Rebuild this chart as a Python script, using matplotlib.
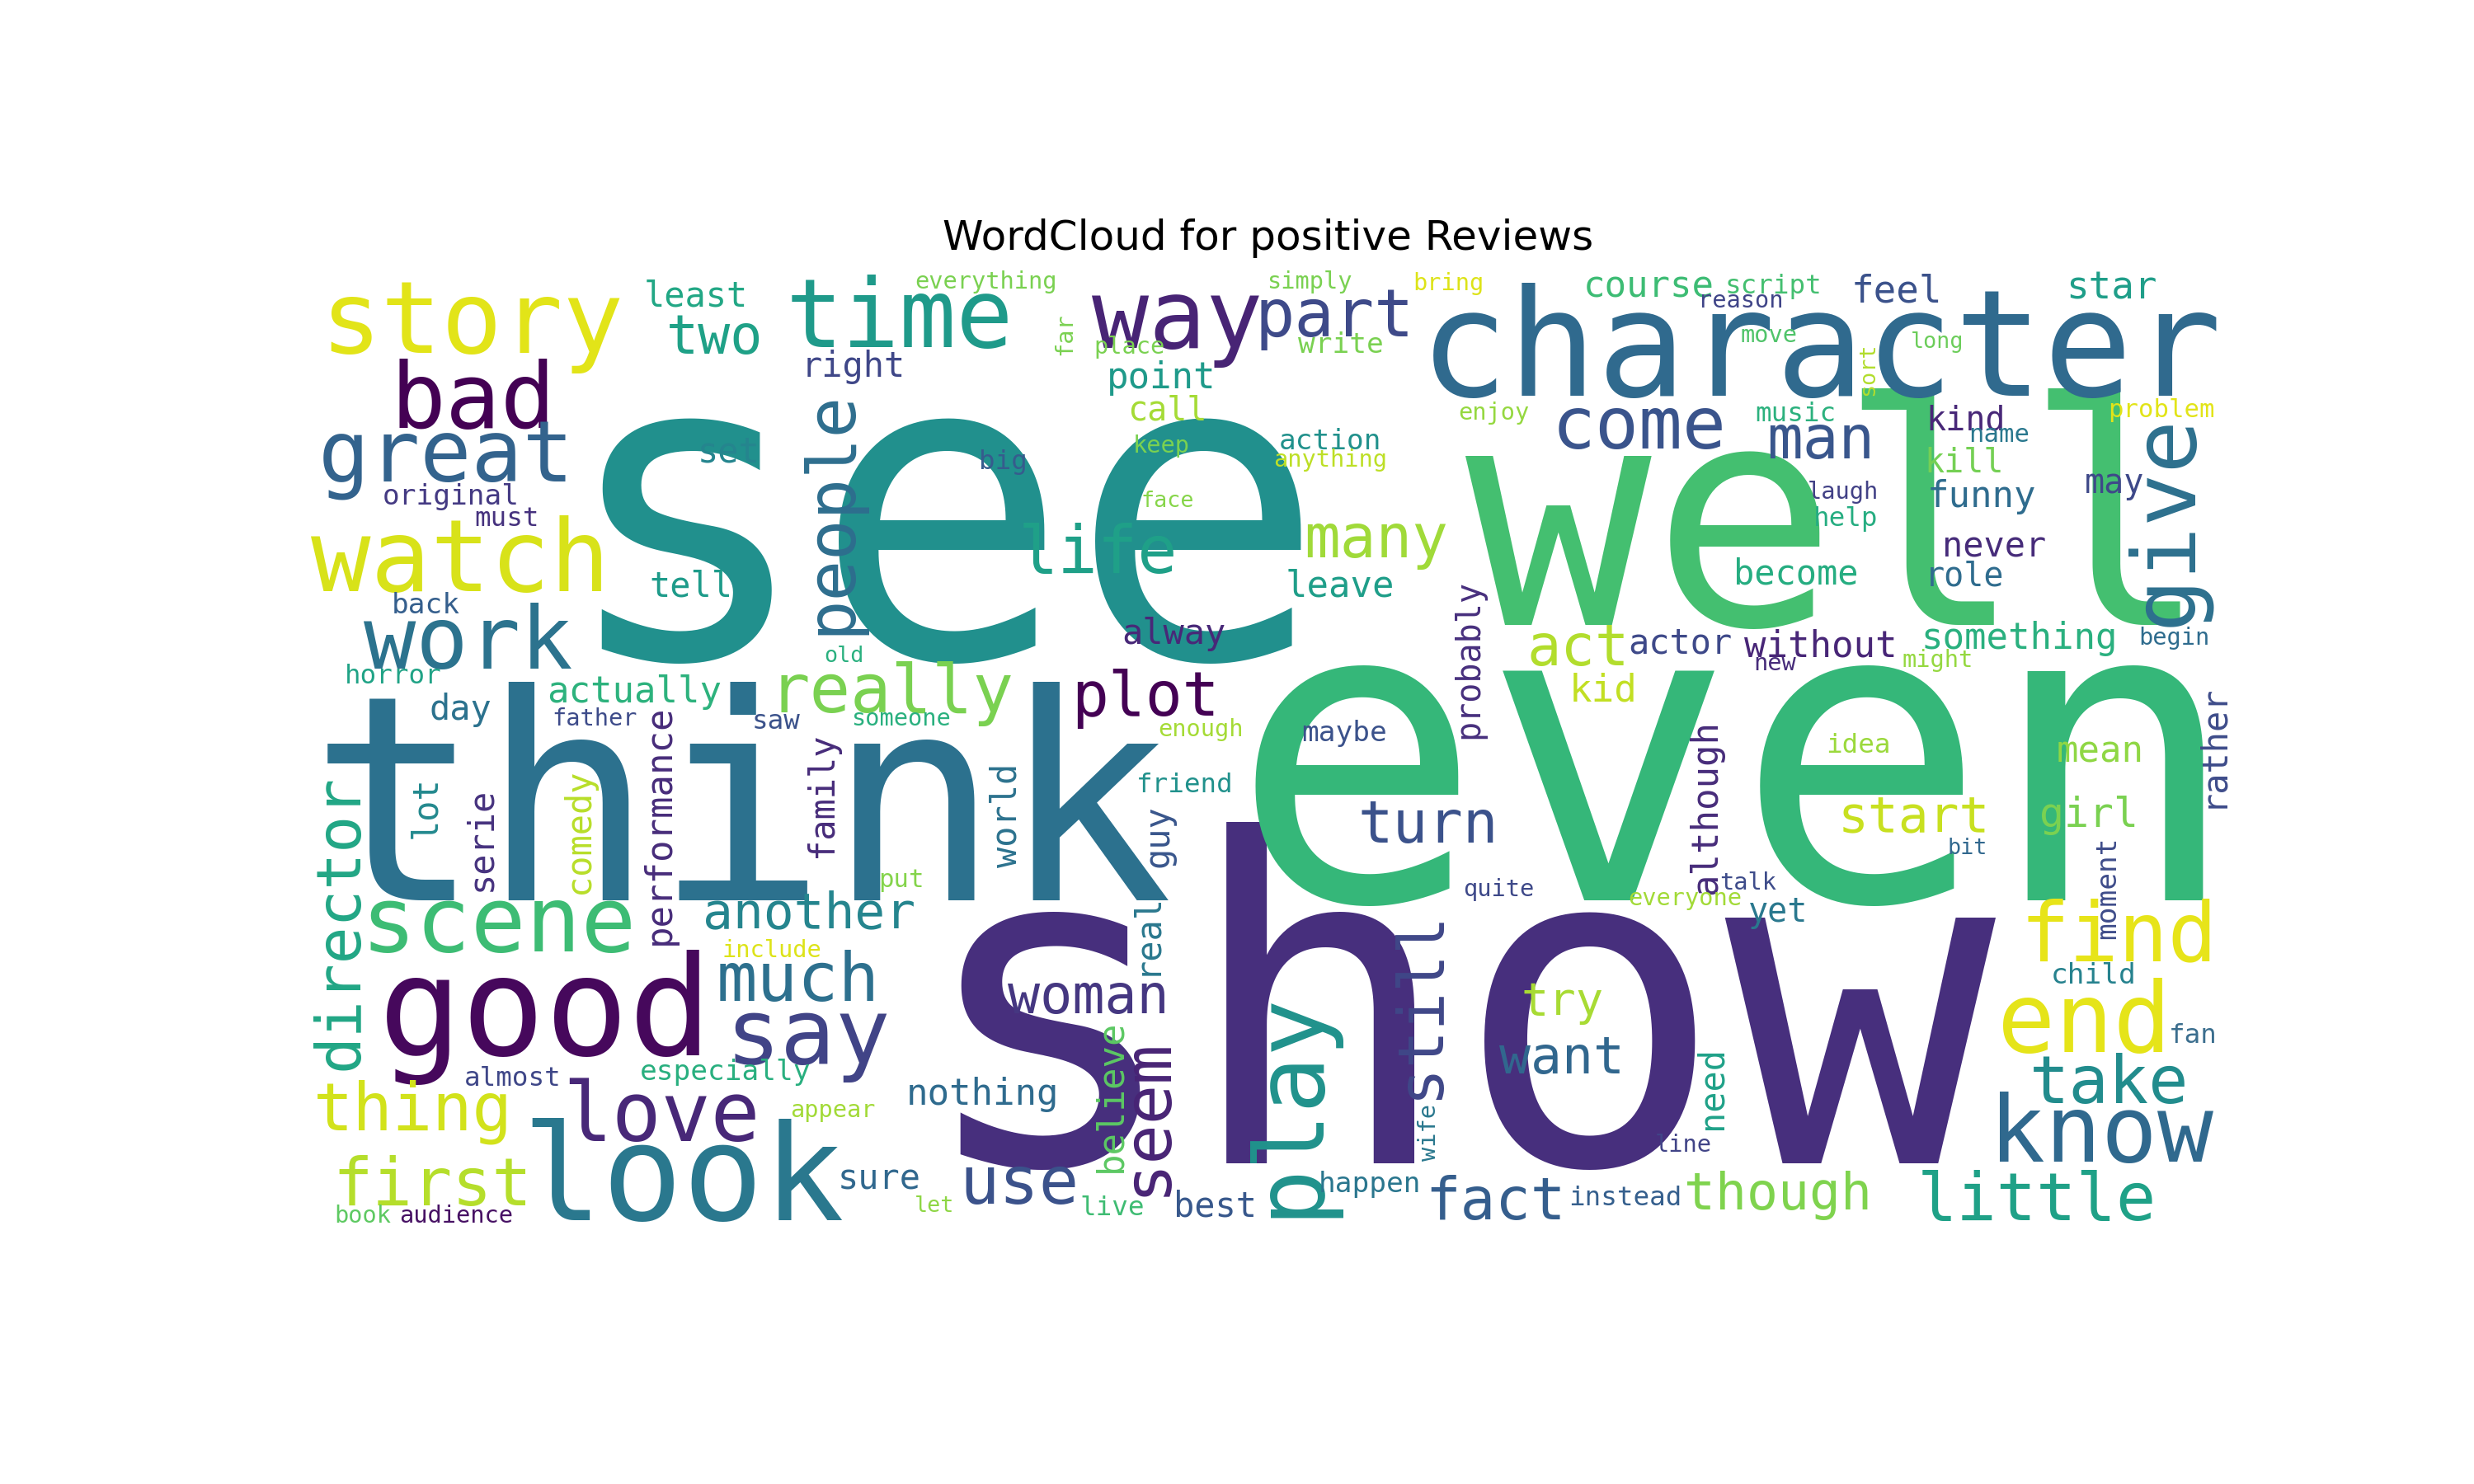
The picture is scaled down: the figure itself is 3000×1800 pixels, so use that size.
import numpy as np
import matplotlib
matplotlib.use("Agg")
from matplotlib import pyplot as plt

# word cloud layout (x, y = word centre in reference pixels,
# em = font em size in reference pixels, rot = rotation in degrees)
words = ["see", "show", "even", "well", "think", "character", "look", "good", "story", "watch",
         "time", "way", "part", "bad", "great", "work", "come", "man", "give", "life",
         "people", "many", "really", "plot", "act", "turn", "start", "scene", "another", "much",
         "say", "director", "thing", "first", "love", "use", "seem", "play", "still", "woman",
         "nothing", "try", "want", "fact", "though", "little", "know", "take", "end", "find",
         "two", "least", "right", "point", "call", "set", "big", "tell", "actually", "day",
         "lot", "serie", "comedy", "performance", "family", "world", "guy", "real", "believe", "put",
         "include", "especially", "almost", "appear", "sure", "best", "live", "let", "happen", "book",
         "audience", "instead", "line", "need", "wife", "maybe", "probably", "kid", "actor", "without",
         "something", "become", "leave", "alway", "never", "role", "funny", "kill", "kind", "may",
         "help", "laugh", "music", "feel", "course", "script", "star", "reason", "move", "sort",
         "long", "name", "problem", "action", "anything", "enjoy", "keep", "face", "everything", "simply",
         "bring", "far", "place", "write", "old", "horror", "back", "original", "must", "father",
         "saw", "someone", "idea", "mean", "rather", "girl", "bit", "although", "talk", "everyone",
         "yet", "moment", "new", "might", "begin", "child", "fan", "quite", "enough", "friend"]
xs = [597, 922, 1100, 1165, 470, 1154, 433, 346, 299, 292,
      570, 746, 846, 300, 283, 297, 1039, 1154, 1373, 696,
      527, 872, 565, 726, 1000, 905, 1213, 316, 513, 506,
      512, 216, 262, 274, 419, 646, 727, 817, 900, 690,
      623, 990, 990, 948, 1127, 1291, 1332, 1337, 1321, 1343,
      453, 441, 541, 736, 740, 462, 636, 438, 402, 292,
      270, 305, 367, 418, 521, 638, 734, 726, 704, 571,
      489, 460, 325, 528, 557, 770, 705, 592, 868, 230,
      289, 1030, 1067, 1085, 906, 852, 931, 1016, 1065, 1154,
      1280, 1138, 849, 744, 1264, 1245, 1256, 1245, 1246, 1340,
      1170, 1168, 1138, 1202, 1045, 1124, 1338, 1103, 1121, 1184,
      1228, 1267, 1370, 843, 843, 947, 736, 740, 625, 830,
      918, 675, 716, 850, 535, 249, 270, 286, 321, 377,
      492, 571, 1178, 1331, 1402, 1324, 1247, 1081, 1108, 1068,
      1127, 1336, 1125, 1228, 1378, 1327, 1390, 950, 761, 751]
ys = [342, 658, 497, 342, 520, 225, 750, 645, 206, 357,
      203, 204, 202, 255, 291, 409, 272, 280, 330, 352,
      325, 343, 440, 443, 412, 524, 519, 587, 580, 623,
      658, 585, 705, 753, 709, 752, 708, 700, 637, 633,
      694, 636, 672, 763, 758, 762, 720, 688, 650, 595,
      215, 188, 233, 240, 261, 287, 293, 372, 439, 450,
      512, 532, 527, 523, 504, 517, 530, 592, 695, 558,
      603, 680, 684, 704, 748, 765, 766, 765, 751, 771,
      771, 760, 726, 690, 718, 465, 418, 438, 408, 410,
      405, 364, 372, 402, 347, 366, 315, 294, 267, 307,
      329, 312, 263, 185, 182, 182, 183, 191, 213, 234,
      217, 276, 260, 280, 292, 262, 283, 318, 179, 179,
      180, 212, 220, 219, 416, 429, 384, 315, 329, 456,
      458, 456, 473, 477, 473, 517, 538, 512, 560, 570,
      579, 563, 421, 419, 405, 619, 657, 564, 463, 498]
ems = [270, 285, 266, 196, 182, 94, 85, 88, 64, 63,
       60, 60, 42, 58, 54, 55, 46, 38, 56, 42,
       43, 38, 43, 39, 36, 37, 32, 58, 32, 43,
       58, 39, 42, 42, 52, 42, 42, 60, 40, 34,
       23, 29, 33, 37, 33, 42, 59, 42, 61, 52,
       34, 22, 22, 23, 21, 22, 17, 22, 23, 22,
       22, 22, 22, 23, 22, 22, 22, 22, 23, 16,
       15, 18, 17, 15, 22, 22, 17, 14, 18, 15,
       15, 17, 15, 22, 15, 18, 21, 24, 22, 23,
       23, 22, 23, 22, 22, 21, 23, 21, 21, 21,
       17, 15, 17, 24, 23, 17, 24, 15, 15, 14,
       14, 16, 16, 18, 15, 15, 15, 14, 15, 15,
       15, 15, 15, 18, 14, 17, 18, 18, 17, 15,
       17, 15, 17, 23, 22, 26, 14, 23, 15, 15,
       21, 18, 15, 15, 15, 18, 17, 15, 15, 17]
rots = [0] * 150
for w in ["give", "people", "director", "seem", "play", "still", "lot", "serie", "comedy", "performance",
          "family", "world", "guy", "real", "believe", "need", "wife", "probably", "sort", "far",
          "rather", "although", "moment"]:
    rots[words.index(w)] = 90
colors = ["#21908d", "#472f7d", "#35b779", "#44bf70", "#2c718e", "#306a8e", "#2a788e", "#46085c", "#e2e418", "#d8e219",
          "#1f9a8a", "#482475", "#3e4a89", "#440154", "#33638d", "#2c738e", "#3a548c", "#39568c", "#2d708e", "#1fa088",
          "#2e6e8e", "#a0da39", "#7ad151", "#440154", "#b2dd2d", "#3b528b", "#c8e020", "#3dbc74", "#25858e", "#2d708e",
          "#414487", "#21a685", "#d2e21b", "#b5de2b", "#482878", "#3b528b", "#482475", "#20928c", "#3f4788", "#453781",
          "#2f6b8e", "#a8db34", "#31678e", "#355e8d", "#7fd34e", "#1fa187", "#30698e", "#228c8d", "#e5e419", "#e7e419",
          "#1fa187", "#22a785", "#3f4788", "#1f9a8a", "#a5db36", "#25858e", "#365c8d", "#1e9b8a", "#2db27d", "#2c728e",
          "#23898e", "#46327e", "#b8de29", "#472c7a", "#472c7a", "#2c728e", "#39568c", "#2a788e", "#5cc863", "#84d44b",
          "#dde318", "#29af7f", "#3f4788", "#a2da37", "#31688e", "#38588c", "#3fbc73", "#8ed645", "#2a768e", "#5ec962",
          "#471164", "#355f8d", "#414487", "#1fa188", "#2a788e", "#3b528b", "#472f7d", "#c2df23", "#3e4989", "#482677",
          "#2ab07f", "#26ad81", "#1f9e89", "#482878", "#472c7a", "#2f6c8e", "#2f6c8e", "#75d054", "#482878", "#3e4989",
          "#26ad81", "#424186", "#2cb17e", "#3b528b", "#3dbc74", "#44bf70", "#1f9e89", "#404588", "#50c46a", "#b2dd2d",
          "#6ccd5a", "#2a788e", "#e2e418", "#21918c", "#bddf26", "#95d840", "#7ad151", "#86d549", "#7ad151", "#7ad151",
          "#dde318", "#7ad151", "#7ad151", "#7ad151", "#2ab07f", "#20a386", "#355f8d", "#443a83", "#46327e", "#3e4c8a",
          "#3b528b", "#2ab07f", "#9bd93c", "#8fd744", "#3e4c8a", "#7ad151", "#31688e", "#472c7a", "#3e4c8a", "#a2da37",
          "#2a788e", "#3e4c8a", "#472c7a", "#95d840", "#2f6c8e", "#26828e", "#3b6e8e", "#3e4989", "#a5db36", "#21918c"]

# reference image: 1568 px wide, cloud canvas 800x400 starting at (196, 171.5), 1.519 px per canvas unit
ref_scale = 1.519
ref_x0, ref_y0 = 196, 171.5
px_per_pt = 1568 / 10 / 72

fig, ax = plt.subplots(figsize=(10, 6))
ax.imshow(np.ones((400, 800, 3)), interpolation="nearest")
for w, x, y, em, r, c in zip(words, xs, ys, ems, rots, colors):
    ax.text((x - ref_x0) / ref_scale, (y - ref_y0) / ref_scale, w,
            fontsize=em / px_per_pt, rotation=r, color=c,
            family="DejaVu Sans Mono", ha="center", va="center")
ax.set_xlim(0, 800)
ax.set_ylim(400, 0)
ax.axis("off")
ax.set_title("WordCloud for positive Reviews")
plt.savefig("out.png", dpi=300)
